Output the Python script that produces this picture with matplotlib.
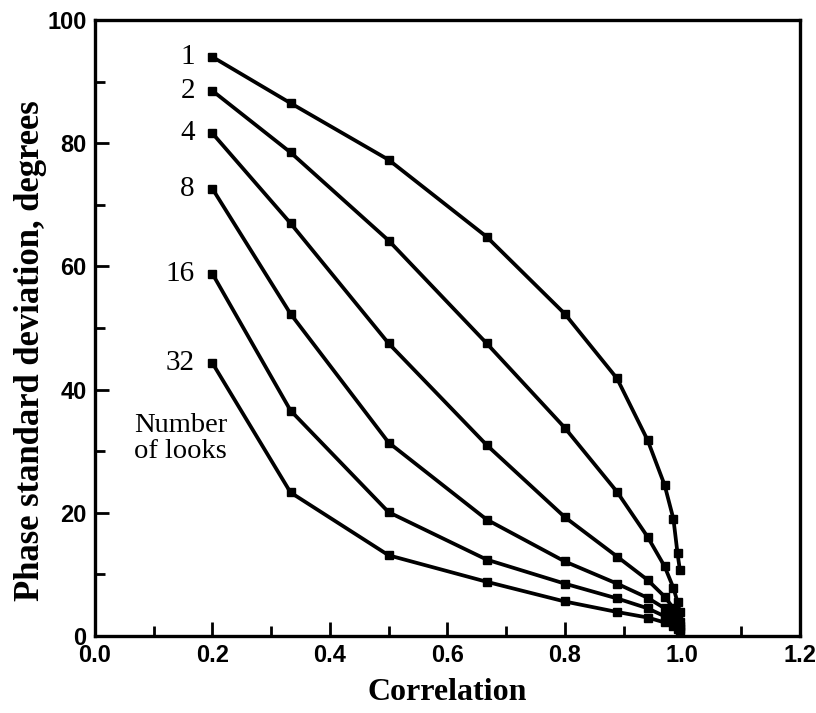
import matplotlib
matplotlib.use("Agg")
import matplotlib.pyplot as plt
from matplotlib.ticker import MultipleLocator, FormatStrFormatter

correlation = [0.2, 0.333, 0.5, 0.667, 0.8, 0.889, 0.941, 0.970, 0.985, 0.992, 0.996]
looks_labels = ["1", "2", "4", "8", "16", "32"]
std_1 = [94.0, 86.5, 77.3, 64.8, 52.3, 41.8, 31.8, 24.5, 19.0, 13.4, 10.7]
std_2 = [88.5, 78.5, 64.2, 47.5, 33.8, 23.4, 16.1, 11.3, 7.8, 5.5, 3.9]
std_4 = [81.6, 67.0, 47.5, 31.0, 19.3, 12.9, 9.1, 6.4, 4.5, 3.2, 2.3]
std_8 = [72.6, 52.3, 31.4, 18.9, 12.1, 8.5, 6.2, 4.5, 3.2, 2.3, 1.6]
std_16 = [58.8, 36.6, 20.1, 12.4, 8.5, 6.1, 4.5, 3.2, 2.3, 1.6, 1.1]
std_32 = [44.3, 23.3, 13.1, 8.8, 5.6, 3.9, 3.0, 2.2, 1.6, 1.1, 0.8]
series = [std_1, std_2, std_4, std_8, std_16, std_32]

fig = plt.figure(figsize=(8.16, 7.13), dpi=100)
ax = fig.add_axes([0.1164, 0.108, 0.8636, 0.864])

for lab, ys in zip(looks_labels, series):
    ax.plot(correlation, ys, color="black", lw=2.7, marker="s", ms=5.5,
            solid_joinstyle="round")
    ax.text(0.17, ys[0], lab, ha="right", va="center",
            fontfamily="Liberation Serif", fontsize=21, color="black")

ax.text(0.146, 32.0, "Number\nof looks", ha="center", va="center",
        fontfamily="Liberation Serif", fontsize=20.5, linespacing=1.05)

ax.set_xlim(0.0, 1.2)
ax.set_ylim(0, 100)
ax.xaxis.set_major_locator(MultipleLocator(0.2))
ax.xaxis.set_minor_locator(MultipleLocator(0.1))
ax.yaxis.set_major_locator(MultipleLocator(20))
ax.yaxis.set_minor_locator(MultipleLocator(10))
ax.xaxis.set_major_formatter(FormatStrFormatter("%.1f"))
ax.yaxis.set_major_formatter(FormatStrFormatter("%d"))

ax.tick_params(which="both", direction="in", top=False, right=False, width=2)
ax.tick_params(which="major", length=10, pad=6)
ax.tick_params(which="minor", length=7)
for lbl in ax.get_xticklabels() + ax.get_yticklabels():
    lbl.set_fontfamily("Liberation Sans")
    lbl.set_fontweight("bold")
    lbl.set_fontsize(17)
for s in ax.spines.values():
    s.set_linewidth(2.4)

ax.set_xlabel("Correlation", fontfamily="Liberation Serif", fontweight="bold",
              fontsize=23, labelpad=8)
ax.set_ylabel("Phase standard deviation, degrees", fontfamily="Liberation Serif",
              fontweight="bold", fontsize=24.9)
ax.yaxis.set_label_coords(-0.068, 0.463)

fig.savefig("out.png", dpi=100)
